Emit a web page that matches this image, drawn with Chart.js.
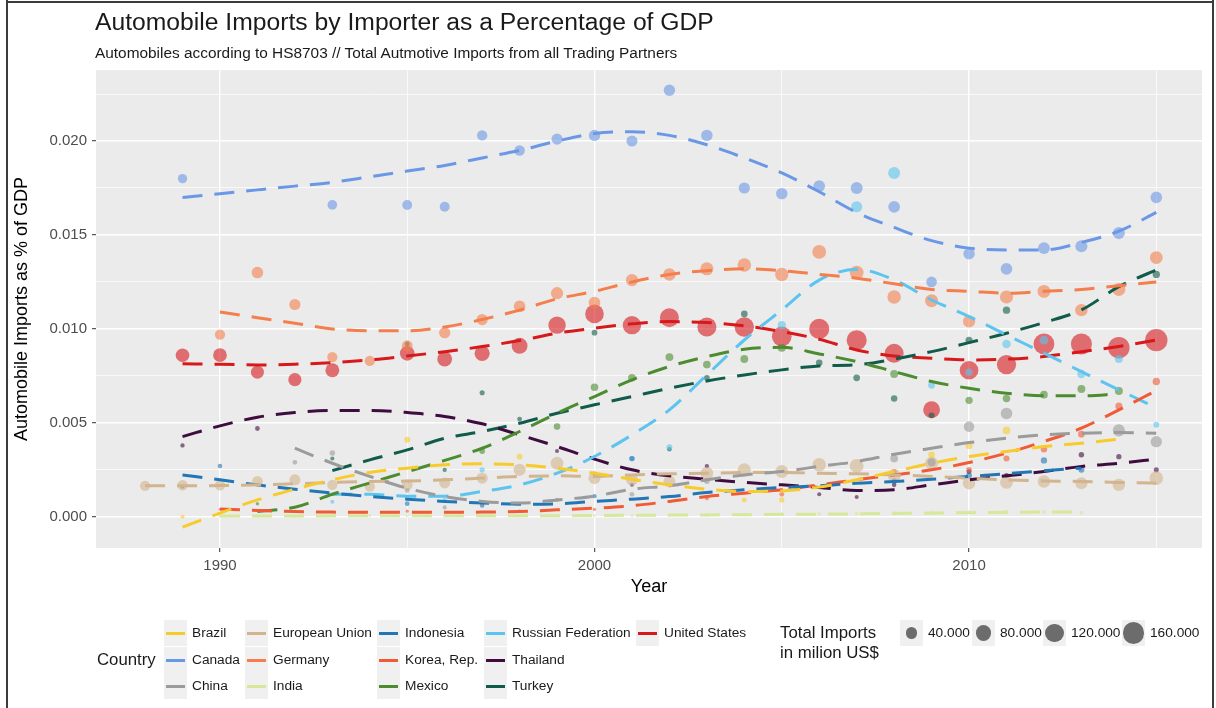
<!DOCTYPE html>
<html>
<head>
<meta charset="utf-8">
<title>Automobile Imports by Importer as a Percentage of GDP</title>
<script src="https://cdn.jsdelivr.net/npm/chart.js@4.4.1/dist/chart.umd.min.js"></script>
<style>
  html, body { margin: 0; padding: 0; background: #fff; }
  #frame { position: absolute; left: 0; top: 0; width: 1216px; height: 708px; overflow: hidden;
           font-family: "Liberation Sans", Arial, Helvetica, sans-serif; color: #1a1a1a; }
  #chartBox { position: absolute; left: 0; top: 0; width: 1216px; height: 708px; }
  .edge { position: absolute; background: #3c3c3c; }
  .title { position: absolute; left: 95px; top: 9.6px; font-size: 24.7px; line-height: 1; white-space: nowrap; color: #1a1a1a; }
  .subtitle { position: absolute; left: 95px; top: 45px; font-size: 15.4px; line-height: 1; white-space: nowrap; color: #1a1a1a; }
  .lg-title { position: absolute; font-size: 16.8px; line-height: 20px; white-space: nowrap; color: #1a1a1a; }
  .lg-key { position: absolute; width: 23px; height: 26px; background: #f0f0f0; }
  .lg-line { position: absolute; left: 2px; width: 19px; height: 3px; top: 11.5px; }
  .lg-dot { position: absolute; border-radius: 50%; background: rgba(0,0,0,0.55); }
  .lg-label { position: absolute; font-size: 13.7px; line-height: 26px; height: 26px; white-space: nowrap; color: #1a1a1a; }
</style>
</head>
<body>
<div id="frame">
  <div id="chartBox"><canvas id="chart"></canvas></div>
  <div class="edge" style="left:6px;top:0;width:2px;height:708px"></div>
  <div class="edge" style="left:6px;top:1px;width:1208px;height:2px"></div>
  <div class="edge" style="left:1212px;top:0;width:2px;height:708px"></div>
  <div class="title">Automobile Imports by Importer as a Percentage of GDP</div>
  <div class="subtitle">Automobiles according to HS8703 // Total Autmotive Imports from all Trading Partners</div>
  <div id="legend"></div>
</div>
<script>
const _ = null;

// Years covered by the data (index 0 = 1988)
const years = [1988, 1989, 1990, 1991, 1992, 1993, 1994, 1995, 1996, 1997, 1998, 1999, 2000, 2001,
               2002, 2003, 2004, 2005, 2006, 2007, 2008, 2009, 2010, 2011, 2012, 2013, 2014, 2015];

// Axis ticks
const xMajorTicks = [1990, 2000, 2010];
const xMinorTicks = [1995, 2005, 2015];
const yMajorTicks = [0.000, 0.005, 0.010, 0.015, 0.020];
const yMinorTicks = [0.0025, 0.0075, 0.0125, 0.0175, 0.0225];

// Size legend breaks (million US$)
const sizeBreaks = [40000, 80000, 120000, 160000];
const sizeBreakLabels = ['40.000', '80.000', '120.000', '160.000'];

// Imports as share of GDP (points), total imports (million US$) and smoothed trend, per country
const brazilShare   = [_, 0.0000, _, _, _, _, _, 0.0041, _, _, 0.0032, _, _, _, _, _, 0.0009, 0.0009, _, _, _, 0.0033, 0.0038, 0.0046, _, _, _, _];
const brazilImports = [_, 2500, _, _, _, _, _, 8000, _, _, 7000, _, _, _, _, _, 4500, 5000, _, _, _, 10000, 13000, 15000, _, _, _, _];
const brazilTrend   = [_, -0.00055, 0.0002, 0.0009, 0.00147, 0.00197, 0.00236, 0.00259, 0.00277, 0.00282, 0.00277, 0.00259, 0.00232, 0.0020, 0.0017, 0.00147, 0.00135, 0.00138, 0.00158, 0.00197, 0.00241, 0.00285, 0.00321, 0.00348, 0.00374, 0.00392, 0.00413, _];

const canadaShare   = [_, 0.0180, _, _, _, 0.0166, _, 0.0166, 0.0165, 0.0203, 0.0195, 0.0201, 0.0203, 0.0200, 0.0227, 0.0203, 0.0175, 0.0172, 0.0176, 0.0175, 0.0165, 0.0125, 0.0140, 0.0132, 0.0143, 0.0144, 0.0151, 0.0170];
const canadaImports = [_, 24000, _, _, _, 26000, _, 28000, 28000, 31000, 32000, 36000, 38000, 36000, 39000, 39000, 37000, 39000, 41000, 43000, 41000, 33000, 39000, 41000, 43000, 44000, 44000, 40000];
const canadaTrend   = [_, 0.0170, 0.0172, 0.0174, 0.0176, 0.0178, 0.0181, 0.0184, 0.0187, 0.0191, 0.0195, 0.0200, 0.0204, 0.0205, 0.0203, 0.0198, 0.0191, 0.0183, 0.0173, 0.0162, 0.0154, 0.0147, 0.0143, 0.0142, 0.0142, 0.0146, 0.0152, 0.0162];

const chinaShare    = [_, _, _, _, 0.0029, 0.0034, _, 0.0014, 0.0005, 0.0007, _, 0.0009, _, 0.0012, _, 0.0019, _, _, _, _, 0.0031, 0.0029, 0.0048, 0.0055, _, _, 0.0046, 0.0040];
const chinaImports  = [_, _, _, _, 4000, 6000, _, 3500, 2500, 2500, _, 2500, _, 4000, _, 7000, _, _, _, _, 15000, 17000, 32000, 40000, _, _, 44000, 38000];
const chinaTrend    = [_, _, _, _, 0.00365, 0.00285, 0.00215, 0.00152, 0.00108, 0.00082, 0.00073, 0.0009, 0.0011, 0.00147, 0.00165, 0.00197, 0.00223, 0.00241, 0.00268, 0.00294, 0.00333, 0.00365, 0.00395, 0.00418, 0.00436, 0.00445, 0.00449, 0.00445];

const euShare       = [0.00165, 0.00168, 0.00168, 0.00188, 0.00197, 0.0017, 0.00161, 0.0017, 0.0018, 0.00206, 0.0025, 0.00285, 0.00206, 0.00197, 0.00188, 0.00232, 0.0025, 0.00241, 0.00277, 0.00271, 0.0022, 0.00285, 0.00179, 0.00183, 0.00188, 0.00179, 0.0017, 0.00206];
const euImports     = [30000, 32000, 32000, 34000, 36000, 30000, 30000, 34000, 35000, 37000, 44000, 50000, 44000, 42000, 42000, 50000, 54000, 52000, 58000, 60000, 52000, 52000, 47000, 50000, 47000, 44000, 47000, 58000];
const euTrend       = [0.00165, 0.00165, 0.00166, 0.0017, 0.00176, 0.00183, 0.00188, 0.0019, 0.00197, 0.00206, 0.00215, 0.00218, 0.00215, 0.00223, 0.00229, 0.00232, 0.00236, 0.00236, 0.00232, 0.00229, 0.00223, 0.00215, 0.00206, 0.00197, 0.00191, 0.00188, 0.00183, 0.00179];

const germanyShare   = [_, _, 0.0097, 0.0130, 0.0113, 0.0085, 0.0083, 0.0091, 0.0098, 0.0105, 0.0112, 0.0119, 0.0114, 0.0126, 0.0129, 0.0132, 0.0134, 0.0129, 0.0141, 0.0130, 0.0117, 0.0115, 0.0104, 0.0117, 0.0120, 0.0110, 0.0121, 0.0138];
const germanyImports = [_, _, 30000, 40000, 37000, 30000, 31000, 35000, 37000, 37000, 41000, 45000, 41000, 45000, 48000, 53000, 57000, 55000, 60000, 60000, 57000, 53000, 45000, 53000, 51000, 47000, 52000, 50000];
const germanyTrend   = [_, _, 0.0109, 0.0106, 0.0103, 0.0100, 0.0099, 0.0099, 0.0101, 0.0105, 0.0110, 0.0116, 0.0120, 0.0125, 0.0129, 0.0131, 0.0132, 0.0131, 0.0129, 0.0127, 0.0124, 0.0121, 0.0120, 0.0119, 0.0120, 0.0121, 0.0123, 0.0125];

const indiaShare    = [_, _, 0.00003, 0.00002, 0.00003, 0.00004, 0.00005, 0.00006, 0.00006, 0.00005, 0.00004, 0.00005, 0.00006, 0.00007, 0.00008, 0.0001, 0.00012, 0.00014, 0.00016, 0.00018, 0.0002, 0.00021, 0.00024, 0.00026, 0.00025, 0.00022, _, _];
const indiaImports  = [_, _, 600, 500, 600, 700, 800, 900, 900, 800, 700, 800, 900, 1000, 1100, 1300, 1500, 1700, 1900, 2100, 2300, 2200, 2600, 2800, 2700, 2500, _, _];
const indiaTrend    = [_, _, 0.00004, 0.00004, 0.00004, 0.00005, 0.00005, 0.00005, 0.00005, 0.00006, 0.00006, 0.00006, 0.00007, 0.00008, 0.00009, 0.0001, 0.00011, 0.00013, 0.00014, 0.00016, 0.00018, 0.0002, 0.00022, 0.00024, 0.00025, 0.00025, _, _];

const indonesiaShare   = [_, 0.0016, 0.0027, _, _, _, _, 0.0007, _, 0.0006, 0.0003, _, 0.0011, 0.0031, _, _, _, _, _, _, 0.0019, _, 0.0022, _, 0.0030, 0.0025, _, _];
const indonesiaImports = [_, 2500, 3500, _, _, _, _, 4000, _, 3500, 1500, _, 2800, 5500, _, _, _, _, _, _, 6000, _, 7500, _, 9000, 8000, _, _];
const indonesiaTrend   = [_, 0.00223, 0.00197, 0.0017, 0.00147, 0.00126, 0.00108, 0.00094, 0.00082, 0.00073, 0.00067, 0.00069, 0.00082, 0.00094, 0.00108, 0.00129, 0.00144, 0.00156, 0.00165, 0.00179, 0.00188, 0.0020, 0.00215, 0.00229, 0.00245, 0.00259, _, _];

const koreaShare    = [_, _, 0.0004, _, _, _, _, 0.0003, _, _, _, _, 0.0004, _, _, 0.0010, _, 0.0012, _, _, 0.0024, _, 0.0025, 0.0031, 0.0036, 0.0044, 0.0059, 0.0072];
const koreaImports  = [_, _, 500, _, _, _, _, 900, _, _, _, _, 1200, _, _, 3000, _, 4000, _, _, 6000, _, 6500, 8000, 9500, 10500, 12000, 13500];
const koreaTrend    = [_, _, 0.00041, 0.00034, 0.00028, 0.00025, 0.00024, 0.00024, 0.00024, 0.00025, 0.00028, 0.00037, 0.00046, 0.00059, 0.00082, 0.00108, 0.00126, 0.00144, 0.0017, 0.00197, 0.00223, 0.0025, 0.00289, 0.00339, 0.00401, 0.00472, 0.00569, 0.00672];

const mexicoShare   = [_, _, _, 0.0007, _, _, _, _, _, 0.0035, _, 0.0048, 0.0069, 0.0074, 0.0085, 0.0081, 0.0084, 0.0090, _, _, 0.0076, _, 0.0062, 0.0063, 0.0065, 0.0068, 0.0067, _];
const mexicoImports = [_, _, _, 1500, _, _, _, _, _, 7000, _, 10000, 14000, 15000, 16000, 15000, 15500, 17000, _, _, 16000, _, 13000, 14000, 15000, 16000, 16500, _];
const mexicoTrend   = [_, _, _, 0.00028, 0.00051, 0.0012, 0.0018, 0.0024, 0.0030, 0.00365, 0.00454, 0.00551, 0.0064, 0.00729, 0.0080, 0.00853, 0.00892, 0.00902, 0.00867, 0.00826, 0.00773, 0.0072, 0.00684, 0.00658, 0.00644, 0.00644, 0.00654, _];

const russiaShare   = [_, _, _, _, _, 0.0008, _, _, 0.0009, 0.0025, _, _, _, 0.0031, 0.0037, _, _, 0.0102, _, 0.0165, 0.0183, 0.0070, 0.0077, 0.0092, 0.0094, 0.0076, 0.0084, 0.0049];
const russiaImports = [_, _, _, _, _, 2500, _, _, 3000, 5000, _, _, _, 6000, 7500, _, _, 17000, _, 36000, 43000, 11000, 13000, 19000, 21000, 18000, 16000, 7000];
const russiaTrend   = [_, _, _, _, _, 0.0012, 0.0012, 0.0011, 0.0011, 0.00135, 0.0017, 0.00232, 0.00321, 0.00436, 0.00569, 0.00755, 0.00941, 0.01101, 0.0126, 0.01317, 0.01261, 0.01154, 0.01066, 0.00968, 0.00871, 0.00773, 0.00676, 0.0058];

const thailandShare   = [_, 0.0038, _, 0.0047, _, _, _, _, _, _, _, 0.0035, 0.0023, 0.0017, _, 0.0027, _, _, 0.0012, 0.00105, 0.0017, _, 0.0024, 0.0022, _, 0.0033, 0.0032, 0.0025];
const thailandImports = [_, 3000, _, 4000, _, _, _, _, _, _, _, 2500, 2200, 2000, _, 3000, _, _, 2500, 2400, 3500, _, 4500, 4500, _, 6000, 5500, 5000];
const thailandTrend   = [_, 0.00427, 0.00484, 0.0053, 0.00555, 0.00566, 0.00566, 0.00555, 0.00534, 0.00495, 0.00436, 0.00374, 0.00307, 0.0025, 0.00218, 0.0020, 0.00183, 0.0017, 0.00156, 0.0014, 0.00144, 0.0017, 0.00197, 0.00218, 0.00241, 0.00268, 0.00285, 0.00307];

const turkeyShare   = [_, _, _, _, _, 0.0031, _, 0.0092, 0.0025, 0.0066, 0.0052, _, 0.0098, _, 0.0036, 0.0074, 0.0108, _, 0.0082, 0.0074, 0.0063, 0.0054, 0.0094, 0.0110, _, _, _, 0.0129];
const turkeyImports = [_, _, _, _, _, 2500, _, 4000, 3000, 5000, 4500, _, 7000, _, 3500, 7000, 10000, _, 10000, 10500, 9500, 7500, 12000, 13500, _, _, _, 13000];
const turkeyTrend   = [_, _, _, _, _, 0.00246, 0.00303, 0.00356, 0.00418, 0.00454, 0.00498, 0.00551, 0.00596, 0.0064, 0.00684, 0.00723, 0.00755, 0.00782, 0.00803, 0.00809, 0.00839, 0.00879, 0.00927, 0.00977, 0.01034, 0.01101, 0.01225, 0.01314];

const usShare       = [_, 0.0086, 0.0086, 0.0077, 0.0073, 0.0078, _, 0.0087, 0.0084, 0.0087, 0.0091, 0.0102, 0.0108, 0.0102, 0.0106, 0.0101, 0.0101, 0.0096, 0.0100, 0.0094, 0.0087, 0.0057, 0.0078, 0.0081, 0.0092, 0.0092, 0.0090, 0.0094];
const usImports     = [_, 58000, 59000, 52000, 54000, 60000, _, 68000, 70000, 74000, 82000, 100000, 116000, 113000, 121000, 123000, 127000, 131000, 137000, 136000, 121000, 93000, 117000, 124000, 148000, 152000, 158000, 172000];
const usTrend       = [_, 0.00814, 0.00812, 0.00808, 0.00812, 0.00821, 0.00835, 0.00856, 0.00879, 0.00906, 0.00938, 0.00977, 0.01004, 0.01027, 0.01039, 0.01034, 0.01016, 0.00986, 0.00945, 0.00888, 0.00856, 0.00844, 0.00835, 0.00839, 0.00853, 0.00879, 0.00906, 0.00941];

// Country table used for datasets and legend (legend reads column by column)
const countries = [
  { name: 'Brazil',             color: '#F8CB2C', share: brazilShare,    imports: brazilImports,    trend: brazilTrend },
  { name: 'Canada',             color: '#6B98E6', share: canadaShare,    imports: canadaImports,    trend: canadaTrend },
  { name: 'China',              color: '#9B9B9B', share: chinaShare,     imports: chinaImports,     trend: chinaTrend },
  { name: 'European Union',     color: '#D2B48E', share: euShare,        imports: euImports,        trend: euTrend },
  { name: 'Germany',            color: '#F47F4C', share: germanyShare,   imports: germanyImports,   trend: germanyTrend },
  { name: 'India',              color: '#D6E89A', share: indiaShare,     imports: indiaImports,     trend: indiaTrend },
  { name: 'Indonesia',          color: '#2176B6', share: indonesiaShare, imports: indonesiaImports, trend: indonesiaTrend },
  { name: 'Korea, Rep.',        color: '#F05A35', share: koreaShare,     imports: koreaImports,     trend: koreaTrend },
  { name: 'Mexico',             color: '#4C8C30', share: mexicoShare,    imports: mexicoImports,    trend: mexicoTrend },
  { name: 'Russian Federation', color: '#5CC4EE', share: russiaShare,    imports: russiaImports,    trend: russiaTrend },
  { name: 'Thailand',           color: '#3F0C3F', share: thailandShare,  imports: thailandImports,  trend: thailandTrend },
  { name: 'Turkey',             color: '#105B4A', share: turkeyShare,    imports: turkeyImports,    trend: turkeyTrend },
  { name: 'United States',      color: '#D7191C', share: usShare,        imports: usImports,        trend: usTrend }
];

// Point radius (px) for a total import value, area-style size scale
function sizeOf(v) { return 0.8 + 0.79 * Math.sqrt(v / 1000); }

function rgba(hex, a) {
  const n = parseInt(hex.slice(1), 16);
  return `rgba(${(n >> 16) & 255},${(n >> 8) & 255},${n & 255},${a})`;
}

const FONT = '"Liberation Sans", Arial, Helvetica, sans-serif';
const datasets = [];
countries.forEach(c => {
  const pts = [];
  const line = [];
  years.forEach((yr, i) => {
    if (c.share[i] !== null) pts.push({ x: yr, y: c.share[i], imp: c.imports[i] });
    if (c.trend[i] !== null) line.push({ x: yr, y: c.trend[i] });
  });
  datasets.push({
    label: c.name + ' trend', data: line, showLine: true,
    borderColor: c.color, borderWidth: 3, borderDash: [20, 12], borderCapStyle: 'butt',
    pointRadius: 0, fill: false, cubicInterpolationMode: 'monotone', order: 0
  });
  datasets.push({
    label: c.name, data: pts, showLine: false,
    backgroundColor: rgba(c.color, 0.6), borderWidth: 0,
    pointRadius: ctx => sizeOf(ctx.raw.imp), order: 1
  });
});

function buildTicks(scale, major, minor) {
  const list = major.map(v => ({ value: v, major: true })).concat(minor.map(v => ({ value: v, major: false })));
  list.sort((a, b) => a.value - b.value);
  scale.ticks = list.filter(t => t.value >= scale.min && t.value <= scale.max);
}

const panelBackground = {
  id: 'panelBackground',
  beforeDraw(chart) {
    const { ctx, chartArea: a } = chart;
    ctx.save();
    ctx.fillStyle = '#EBEBEB';
    ctx.fillRect(a.left, a.top, a.right - a.left, a.bottom - a.top);
    ctx.restore();
  }
};

new Chart(document.getElementById('chart'), {
  type: 'scatter',
  data: { datasets },
  plugins: [panelBackground],
  options: {
    responsive: true, maintainAspectRatio: false, animation: false, events: [],
    layout: { padding: { left: 11, top: 70, right: 14, bottom: 110 } },
    plugins: { legend: { display: false }, tooltip: { enabled: false }, title: { display: false } },
    scales: {
      x: {
        type: 'linear', min: 1986.69, max: 2016.22,
        afterBuildTicks: s => buildTicks(s, xMajorTicks, xMinorTicks),
        afterFit: s => { s.height = 50; },
        border: { display: false },
        grid: {
          color: '#FFFFFF', lineWidth: c => (c.tick && c.tick.major ? 1.4 : 0.7),
          drawTicks: true, tickLength: 4, tickWidth: 1,
          tickColor: c => (c.tick && c.tick.major ? '#333333' : 'rgba(0,0,0,0)')
        },
        ticks: {
          autoSkip: false, maxRotation: 0, padding: 5, color: '#4D4D4D', font: { family: FONT, size: 15 },
          callback: (v, i, t) => (t[i].major ? String(v) : '')
        },
        title: { display: true, text: 'Year', color: '#000', font: { family: FONT, size: 18 }, padding: { top: 0, bottom: 0 } }
      },
      y: {
        type: 'linear', min: -0.00166, max: 0.02378,
        afterBuildTicks: s => buildTicks(s, yMajorTicks, yMinorTicks),
        afterFit: s => { s.width = 85; },
        border: { display: false },
        grid: {
          color: '#FFFFFF', lineWidth: c => (c.tick && c.tick.major ? 1.4 : 0.7),
          drawTicks: true, tickLength: 4, tickWidth: 1,
          tickColor: c => (c.tick && c.tick.major ? '#333333' : 'rgba(0,0,0,0)')
        },
        ticks: {
          autoSkip: false, padding: 5, color: '#4D4D4D', font: { family: FONT, size: 15 },
          callback: (v, i, t) => (t[i].major ? v.toFixed(3) : '')
        },
        title: { display: true, text: 'Automobile Imports as % of GDP', color: '#000', font: { family: FONT, size: 18 }, padding: { top: 0, bottom: 0 } }
      }
    }
  }
});

// Legends: colour (Country) and size (Total Imports)
const legend = document.getElementById('legend');
function add(cls, style, text) {
  const d = document.createElement('div');
  d.className = cls;
  Object.assign(d.style, style);
  if (text) d.textContent = text;
  legend.appendChild(d);
  return d;
}
add('lg-title', { left: '97px', top: '650px' }, 'Country');
const keyCols = [164, 245, 377, 484, 636];
const rowMid = [633, 660, 686];
countries.forEach((c, i) => {
  const col = Math.floor(i / 3), row = i % 3;
  const key = add('lg-key', { left: keyCols[col] + 'px', top: (rowMid[row] - 13) + 'px' });
  const ln = document.createElement('div');
  ln.className = 'lg-line';
  ln.style.background = c.color;
  key.appendChild(ln);
  add('lg-label', { left: (keyCols[col] + 28) + 'px', top: (rowMid[row] - 13) + 'px' }, c.name);
});
add('lg-title', { left: '780px', top: '623px' }, 'Total Imports');
add('lg-title', { left: '780px', top: '643px' }, 'in milion US$');
const sizeKeyX = [900, 972, 1043, 1122];
sizeBreaks.forEach((v, i) => {
  const key = add('lg-key', { left: sizeKeyX[i] + 'px', top: '620px' });
  const r = sizeOf(v);
  const dot = document.createElement('div');
  dot.className = 'lg-dot';
  Object.assign(dot.style, { width: (2 * r) + 'px', height: (2 * r) + 'px', left: (11.5 - r) + 'px', top: (13 - r) + 'px' });
  key.appendChild(dot);
  add('lg-label', { left: (sizeKeyX[i] + 28) + 'px', top: '620px' }, sizeBreakLabels[i]);
});
</script>
</body>
</html>
